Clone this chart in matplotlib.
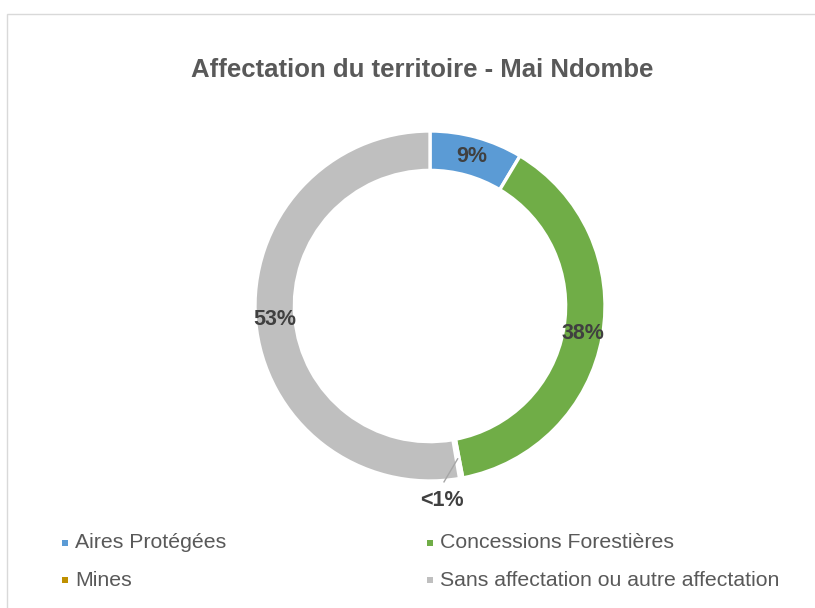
import matplotlib
matplotlib.use("Agg")
import matplotlib.pyplot as plt
import numpy as np
from matplotlib.patches import Rectangle

plt.rcParams['font.family'] = ['Liberation Sans', 'DejaVu Sans']

categories = ["Aires Protégées", "Concessions Forestières", "Mines", "Sans affectation ou autre affectation"]
values = [8.6, 38.4, 0.3, 52.7]
labels = ["9%", "38%", "<1%", "53%"]
colors = ["#5B9BD5", "#70AD47", "#BF9000", "#BFBFBF"]

W, H = 815, 608
fig = plt.figure(figsize=(W/100, H/100), dpi=100)
fig.patch.set_facecolor("white")

# chart area border
fig.patches.append(Rectangle((7/W, -0.05), 1.2, (H-14)/H + 0.05, transform=fig.transFigure,
                             fill=False, edgecolor="#D9D9D9", linewidth=1.0))

R = 175
cx, cy = 430, 306
ax = fig.add_axes([(cx-R)/W, (H-cy-R)/H, 2*R/W, 2*R/H])

width = 0.225
wedges, _ = ax.pie(values, colors=colors, startangle=90, counterclock=False, radius=1.0,
                   wedgeprops=dict(width=width, edgecolor="white", linewidth=2.4))
ax.set_xlim(-1, 1)
ax.set_ylim(-1, 1)
ax.set_aspect("equal")
ax.axis("off")

mid_r = 1 - width/2
cum = np.cumsum([0] + values[:-1])
total = sum(values)
for i, (v, lab) in enumerate(zip(values, labels)):
    ang = np.deg2rad(90 - 360*(cum[i] + v/2)/total)
    if lab == "<1%":
        x0, y0 = mid_r*np.cos(ang), mid_r*np.sin(ang)
        x1, y1 = 0.08, -1.005
        ax.plot([x0, x1], [y0, y1], color="#A6A6A6", lw=1, clip_on=False)
        ax.text(0.07, -1.11, lab, ha="center", va="center", fontsize=15.5, fontweight="bold",
                color="#404040", clip_on=False)
    else:
        ax.text(mid_r*np.cos(ang), mid_r*np.sin(ang), lab, ha="center", va="center",
                fontsize=15.5, fontweight="bold", color="#404040")

fig.text(422/W, 1-70/H, "Affectation du territoire - Mai Ndombe", ha="center", va="center",
         fontsize=18.5, fontweight="bold", color="#595959")

# legend
pos = [(65, 543), (430, 543), (65, 580), (430, 580)]
for (px, py), c, name in zip(pos, colors, categories):
    fig.patches.append(Rectangle(((px-3)/W, 1-(py+3)/H), 6/W, 6/H, transform=fig.transFigure,
                                 facecolor=c, edgecolor="none"))
    fig.text((px+10)/W, 1-py/H, name, ha="left", va="center", fontsize=15.3, color="#595959")

fig.savefig("out.png", dpi=100)
